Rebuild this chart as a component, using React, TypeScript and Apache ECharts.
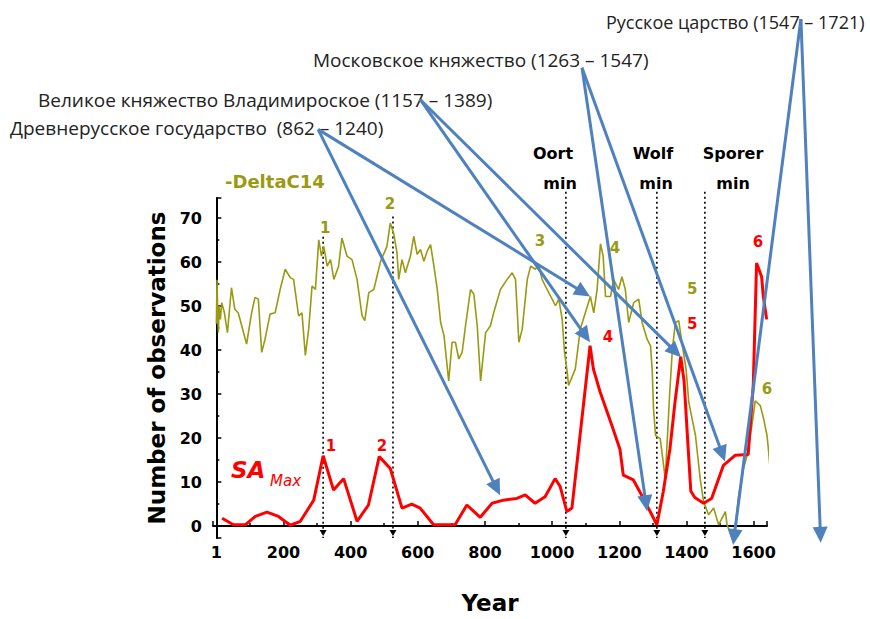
import React, { useEffect, useRef } from 'react';
import * as echarts from 'echarts';

// SA_Max: number of observations (year, value)
const saMax: [number, number][] = [
  [17, 1.8], [51, 0.3], [86, 0.3], [116, 2.2], [151, 3.2], [185, 2.2], [220, 0.2], [250, 1.1],
  [290, 5.9], [318, 16], [349, 8.2], [379, 10.8], [419, 1.1], [453, 4.8], [485, 15.8], [518, 13.1],
  [553, 4.1], [582, 5.0], [607, 4.1], [647, 0.3], [711, 0.3], [746, 4.8], [786, 2.0], [821, 5.2],
  [855, 5.9], [895, 6.3], [920, 7.1], [949, 5.2], [979, 6.7], [1009, 10.8], [1024, 9], [1044, 3.3],
  [1059, 4.1], [1113, 41], [1123, 35.7], [1143, 30.5], [1178, 22.9], [1202, 17.5], [1212, 11.6],
  [1242, 10.5], [1272, 6.3], [1312, 0.3], [1331, 7.8], [1351, 17.6], [1366, 28.2], [1383, 38.5],
  [1393, 33], [1405, 18], [1413, 8], [1425, 6.5], [1451, 5.2], [1475, 6.3], [1510, 13.8],
  [1545, 16.1], [1584, 16.3], [1599, 31.9], [1609, 59.8], [1624, 56.7], [1629, 52.2], [1639, 47],
];

// -DeltaC14 (scaled to the same axis)
const deltaC14: [number, number][] = [
  [0, 46], [2, 56], [4, 48.5], [6, 44], [8, 50], [12, 47], [16, 50.8], [24, 48.5], [33, 44],
  [45, 54.2], [55, 49.3], [65, 48.5], [73, 46.3], [90, 41.4], [105, 48.5], [115, 52], [125, 51.6],
  [135, 39.5], [145, 42.5], [160, 48.2], [175, 48.5], [190, 53.8], [205, 58.4], [220, 56.5],
  [230, 56.1], [245, 47.8], [255, 48.5], [265, 38.8], [275, 44.8], [285, 54.6], [295, 53.8],
  [305, 65.1], [313, 61.4], [320, 63.6], [330, 59.1], [340, 60.6], [350, 56.1], [364, 59.1],
  [374, 65.5], [389, 61.4], [404, 60.6], [419, 56.1], [434, 47.8], [442, 46.7], [454, 53.1],
  [469, 53.8], [489, 60.2], [508, 63.6], [518, 68.9], [528, 66.6], [538, 62.1], [543, 56.1],
  [553, 60.6], [563, 57.6], [578, 61.4], [588, 65.9], [598, 61.8], [608, 62.9], [618, 60.2],
  [628, 62.5], [638, 64], [648, 59.1], [658, 53.8], [668, 46.3], [678, 43.3], [692, 33],
  [702, 41.8], [712, 41.8], [722, 38], [732, 39.5], [742, 45.5], [757, 53.8], [767, 52.7],
  [777, 45.5], [787, 33], [802, 44], [816, 45.5], [826, 48.5], [846, 53.8], [866, 56.1],
  [881, 57.6], [891, 56.1], [901, 41.8], [911, 44.8], [926, 56.1], [936, 59.1], [950, 58.4],
  [960, 59.4], [970, 56.1], [985, 53.8], [1000, 51.6], [1010, 50.1], [1020, 51.6], [1030, 47],
  [1037, 39.5], [1045, 35], [1049, 32], [1069, 35.7], [1084, 44.8], [1099, 48.5], [1114, 52.2],
  [1124, 48.5], [1134, 53.8], [1144, 64.2], [1152, 61.4], [1159, 52.2], [1174, 52.2], [1183, 56.1],
  [1198, 53.8], [1208, 56.7], [1218, 53.8], [1228, 46.3], [1243, 50.8], [1258, 51.6], [1268, 46.3],
  [1283, 42.5], [1293, 41], [1298, 35.7], [1302, 26.7], [1308, 20.6], [1322, 19.9], [1337, 10.8],
  [1350, 30], [1358, 40], [1367, 46.3], [1377, 46.7], [1390, 40], [1399, 35.7], [1407, 28.2],
  [1427, 20.6], [1441, 10.8], [1451, 5.6], [1466, 2.6], [1481, 4.1], [1496, 0.3], [1516, 3.3],
  [1521, 0.3], [1536, -2.7], [1546, 0.3], [1556, 7.1], [1570, 13.1], [1581, 16.1], [1595, 22.9],
  [1605, 28.5], [1620, 27.4], [1630, 24.4], [1640, 20.6], [1645, 16.9], [1650, 12.3], [1655, 10.5],
];

// numbered peak labels
const saLabels: [number, number, string][] = [
  [341, 18.3, '1'], [493, 18.3, '2'], [1166, 43, '4'], [1417, 45.9, '5'], [1613, 64.7, '6'],
];
const c14Labels: [number, number, string][] = [
  [324, 67.8, '1'], [517, 73.2, '2'], [964, 64.9, '3'], [1187, 63.3, '4'], [1417, 53.8, '5'], [1640, 31.2, '6'],
];

// vertical dotted lines: [year, top value]
const minimaLines: [number, number][] = [
  [318, 65.8], [526, 70.4], [1041, 76], [1312, 76], [1455, 76],
];
const minimaNames: [string, string][] = [['Oort', 'min'], ['Wolf', 'min'], ['Sporer', 'min']];

// historical periods and arrows (data coords: x1, y1, x2, y2)
const periodTexts = [
  'Русское царство (1547 – 1721)',
  'Московское княжество (1263 – 1547)',
  'Великое княжество Владимироское (1157 – 1389)',
  'Древнерусское государство  (862 – 1240)',
];
const arrows: [number, number, number, number][] = [
  [303, 90.2, 845, 7.0],
  [303, 90.2, 1113, 52.2],
  [607, 97.0, 1113, 41.8],
  [607, 97.0, 1384, 38.4],
  [1089, 104.2, 1283, 3.4],
  [1089, 104.2, 1515, 14.7],
  [1741, 115.3, 1539, -4.3],
  [1741, 115.3, 1800, -3.8],
];

const X_MIN = -10;
const X_MAX = 1640;
const Y_MIN = -2.7;
const Y_MAX = 74.6;

const RED = '#ff0000';
const OLIVE = '#9a9a12';
const BLUE = '#4f81bd';
const FONT = 'DejaVu Sans';

export default function App() {
  const ref = useRef<HTMLDivElement>(null);
  useEffect(() => {
    if (!ref.current) return;
    const chart = echarts.init(ref.current, undefined, { renderer: 'svg' });

    const labelSeries = (labels: [number, number, string][], color: string) => ({
      type: 'custom',
      data: labels.map((l) => [l[0], l[1]]),
      encode: { x: 0, y: 1 },
      z: 6,
      silent: true,
      renderItem: (params: any, api: any) => {
        const p = api.coord([api.value(0), api.value(1)]);
        return {
          type: 'text',
          x: p[0],
          y: p[1],
          style: {
            text: labels[params.dataIndex][2],
            fill: color,
            font: `bold 15px ${FONT}`,
            align: 'center',
            verticalAlign: 'middle',
          },
        };
      },
    });

    const minText = (x: number, y: number, t: string) => ({
      type: 'text', x, y,
      style: { text: t, font: `bold 16px ${FONT}`, fill: '#000', align: 'center', verticalAlign: 'middle' },
    });
    const ruText = (x: number, y: number, t: string, size: number) => ({
      type: 'text', x, y,
      style: { text: t, font: `${size}px 'Open Sans'`, fill: '#222', verticalAlign: 'middle' },
    });

    const option: any = {
      animation: false,
      grid: { left: 213, right: 103, top: 198, bottom: 79 },
      xAxis: {
        type: 'value',
        min: X_MIN,
        max: X_MAX,
        splitNumber: 8,
        name: 'Year',
        nameLocation: 'middle',
        nameGap: 53,
        nameTextStyle: { fontFamily: FONT, fontWeight: 'bold', fontSize: 23, color: '#000' },
        axisLine: { lineStyle: { color: '#000', width: 2 } },
        axisTick: { inside: true, length: 5, lineStyle: { color: '#000', width: 1.5 } },
        minorTick: { show: true, splitNumber: 2, length: 3, lineStyle: { color: '#000', width: 1.5 } },
        splitLine: { show: false },
        axisLabel: {
          showMinLabel: false,
          showMaxLabel: false,
          margin: 6,
          fontFamily: FONT,
          fontWeight: 'bold',
          fontSize: 16,
          color: '#000',
          formatter: (v: number) => (v === 0 ? '1' : String(v)),
        },
      },
      yAxis: {
        type: 'value',
        min: Y_MIN,
        max: Y_MAX,
        splitNumber: 8,
        name: 'Number of observations',
        nameLocation: 'middle',
        nameRotate: 90,
        nameGap: 44,
        nameTextStyle: { fontFamily: FONT, fontWeight: 'bold', fontSize: 23, color: '#000' },
        axisLine: { show: true, lineStyle: { color: '#000', width: 2 } },
        axisTick: { show: true, inside: true, length: 5, lineStyle: { color: '#000', width: 1.5 } },
        minorTick: { show: true, splitNumber: 2, length: 3, lineStyle: { color: '#000', width: 1.5 } },
        splitLine: { show: false },
        axisLabel: {
          showMinLabel: false,
          showMaxLabel: false,
          margin: 11,
          fontFamily: FONT,
          fontWeight: 'bold',
          fontSize: 16,
          color: '#000',
        },
      },
      series: [
        {
          type: 'custom',
          name: 'minima',
          data: minimaLines,
          encode: { x: 0, y: 1 },
          z: 1,
          silent: true,
          renderItem: (params: any, api: any) => {
            const top = api.coord([api.value(0), api.value(1)]);
            const bot = api.coord([api.value(0), Y_MIN]);
            return {
              type: 'group',
              children: [
                {
                  type: 'line',
                  shape: { x1: top[0], y1: top[1], x2: bot[0], y2: bot[1] },
                  style: { stroke: '#000', lineWidth: 1.6, lineDash: [2, 3] },
                },
                {
                  type: 'polygon',
                  shape: { points: [[bot[0] - 3.5, bot[1] - 8], [bot[0] + 3.5, bot[1] - 8], [bot[0], bot[1] - 2]] },
                  style: { fill: '#000' },
                },
              ],
            };
          },
        },
        {
          type: 'line',
          name: '-DeltaC14',
          data: deltaC14,
          showSymbol: false,
          clip: false,
          z: 2,
          lineStyle: { color: OLIVE, width: 1.6 },
        },
        {
          type: 'line',
          name: 'SA Max',
          data: saMax,
          showSymbol: false,
          clip: false,
          z: 3,
          lineStyle: { color: RED, width: 3 },
        },
        labelSeries(saLabels, RED),
        labelSeries(c14Labels, OLIVE),
        {
          type: 'custom',
          name: 'arrows',
          data: arrows,
          encode: { x: [0, 2], y: [1, 3] },
          z: 10,
          silent: true,
          renderItem: (params: any, api: any) => {
            const p1 = api.coord([api.value(0), api.value(1)]);
            const p2 = api.coord([api.value(2), api.value(3)]);
            const dx = p2[0] - p1[0];
            const dy = p2[1] - p1[1];
            const len = Math.hypot(dx, dy);
            const ux = dx / len;
            const uy = dy / len;
            const hl = 16;
            const hw = 7.5;
            const bx = p2[0] - ux * hl;
            const by = p2[1] - uy * hl;
            return {
              type: 'group',
              children: [
                {
                  type: 'line',
                  shape: { x1: p1[0], y1: p1[1], x2: bx + ux * 2, y2: by + uy * 2 },
                  style: { stroke: BLUE, lineWidth: 3 },
                },
                {
                  type: 'polygon',
                  shape: { points: [[p2[0], p2[1]], [bx - uy * hw, by + ux * hw], [bx + uy * hw, by - ux * hw]] },
                  style: { fill: BLUE },
                },
              ],
            };
          },
        },
      ],
      graphic: [
        ruText(606, 22, periodTexts[0], 18),
        ruText(313, 60, periodTexts[1], 19),
        ruText(38, 100, periodTexts[2], 19),
        ruText(10, 128, periodTexts[3], 19),
        { type: 'text', x: 225, y: 181, style: { text: '-DeltaC14', font: `bold 18px ${FONT}`, fill: OLIVE, verticalAlign: 'middle' } },
        { type: 'text', x: 231, y: 470, style: { text: 'SA', font: `italic bold 23px ${FONT}`, fill: RED, verticalAlign: 'middle' } },
        { type: 'text', x: 270, y: 481, style: { text: 'Max', font: `italic 15px ${FONT}`, fill: RED, verticalAlign: 'middle' } },
        minText(553, 153, minimaNames[0][0]),
        minText(560, 183, minimaNames[0][1]),
        minText(653, 153, minimaNames[1][0]),
        minText(656, 183, minimaNames[1][1]),
        minText(733, 153, minimaNames[2][0]),
        minText(733, 183, minimaNames[2][1]),
      ],
    };
    chart.setOption(option);
    return () => chart.dispose();
  }, []);
  return (
    <div
      ref={ref}
      style={{ position: 'absolute', left: 0, top: 0, width: 870, height: 619, background: '#fff' }}
    />
  );
}
